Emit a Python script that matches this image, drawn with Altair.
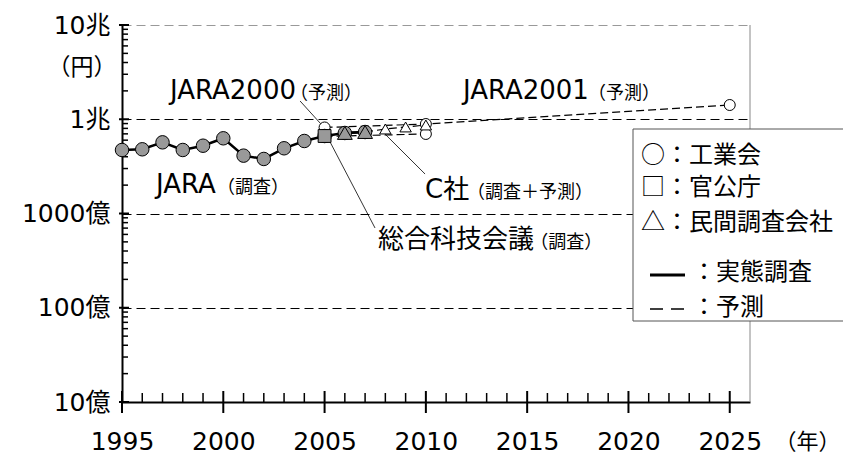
import altair as alt
import pandas as pd

# ---------------- data (unit: 億円) ----------------
jara_years = list(range(1995, 2008))
jara_values = [4720, 4800, 5690, 4720, 5240, 6280, 4110, 3790, 4920, 5880, 6640, 7150, 7320]

gov_years = [2005]
gov_values = [6640]

c_actual_years = [2006, 2007]
c_actual_values = [7150, 7320]

c_fc_years = [2007, 2008, 2009, 2010]
c_fc_values = [7320, 7880, 8280, 8690]

jara2000_years = [2005, 2010]
jara2000_values = [6570, 6980]

jara2001_years = [2005, 2010, 2025]
jara2001_values = [8180, 8900, 14160]

x_ticks = [1995, 2000, 2005, 2010, 2015, 2020, 2025]
x_minor = [y for y in range(1995, 2026) if y % 5 != 0]
y_ticks = [10, 100, 1000, 10000, 100000]
y_tick_labels = ["10億", "100億", "1000億", "1兆", "10兆"]
y_minor = [m * 10 ** e for e in range(1, 5) for m in range(2, 10)]

# annotations (data coordinates)
big_text = ["JARA2000", "JARA2001", "JARA", "C社", "総合科技会議"]
big_year = [1997.37, 2011.83, 1996.68, 2009.96, 2007.64]
big_value = [16400, 16400, 1650, 1460, 430]
small_text = ["（予測）", "（予測）", "（調査）", "（調査＋予測）", "（調査）"]
small_year = [2003.29, 2018.00, 1999.69, 2012.03, 2015.15]
small_value = [16400, 16400, 1650, 1460, 430]

lead_year = [2003.79, 2005.22, 2007.98]
lead_value = [15620, 6024, 6975]
lead_year2 = [2004.82, 2007.49, 2009.96]
lead_value2 = [8905, 702, 2624]

legend_labels = ["○：工業会", "□：官公庁", "△：民間調査会社", "：実態調査", "：予測"]

# ---------------- styles ----------------
W, H = 628, 377
FONT_LAT = "DejaVu Sans, Noto Sans CJK JP"
FONT_JP = "Noto Sans CJK JP"

xscale = alt.Scale(domain=[1995, 2026], nice=False, zero=False)
yscale = alt.Scale(type="log", domain=[10, 100000], nice=False)

label_expr = " : ".join(
    f"datum.value == {v} ? '{t}'" for v, t in zip(y_ticks, y_tick_labels)
) + " : ''"

xaxis = alt.Axis(
    values=x_ticks, format="d", grid=False, ticks=False, tickSize=0,
    labelFont=FONT_LAT, labelFontSize=25, labelColor="black", labelPadding=27,
    labelFlush=False, labelOverlap=False,
    domainColor="black", domainWidth=2,
    title="（年）", titleFont=FONT_JP, titleFontSize=22, titleFontWeight="normal",
    titleColor="black", titleX=652, titleY=39, titleAlign="left", titleBaseline="middle",
)
yaxis = alt.Axis(
    values=y_ticks, labelExpr=label_expr, ticks=False, tickSize=0,
    labelFont=FONT_LAT, labelFontSize=25, labelColor="black", labelPadding=12,
    labelFlush=False, labelOverlap=False,
    domainColor="black", domainWidth=2,
    grid=True, gridDash=[9, 5], gridWidth=1,
    gridColor={"condition": {"test": "datum.value >= 100000", "value": "#999999"}, "value": "#000000"},
    title="（円）", titleFont=FONT_JP, titleFontSize=23, titleFontWeight="normal",
    titleColor="black", titleAngle=0, titleX=-6, titleY=42, titleAlign="right",
    titleBaseline="middle",
)

X = alt.X("year:Q", scale=xscale, axis=xaxis)
Y = alt.Y("value:Q", scale=yscale, axis=yaxis)


def df(years, values):
    return pd.DataFrame({"year": years, "value": values})


one = pd.DataFrame({"a": [0]})

# axis base (grid etc.)
base = alt.Chart(df(jara_years, jara_values)).mark_point(opacity=0).encode(x=X, y=Y)

# manual ticks
x_minor_ticks = alt.Chart(pd.DataFrame({"year": x_minor})).mark_rule(color="black", strokeWidth=1.5).encode(
    x=X, y=alt.value(H - 9), y2=alt.value(H))
x_major_ticks = alt.Chart(pd.DataFrame({"year": x_ticks})).mark_rule(color="black", strokeWidth=2).encode(
    x=X, y=alt.value(H - 11), y2=alt.value(H + 11))
y_minor_ticks = alt.Chart(pd.DataFrame({"value": y_minor})).mark_rule(color="black", strokeWidth=1.5).encode(
    y=Y, x=alt.value(0), x2=alt.value(6))
y_major_ticks = alt.Chart(pd.DataFrame({"value": y_ticks})).mark_rule(color="black", strokeWidth=2).encode(
    y=Y, x=alt.value(-3), x2=alt.value(7))

right_border = alt.Chart(one).mark_rule(color="#888888", strokeWidth=1).encode(
    x=alt.datum(2026), y=alt.value(0), y2=alt.value(H))

dash = dict(color="black", strokeWidth=1.2, strokeDash=[8, 4])
l_j2000 = alt.Chart(df(jara2000_years, jara2000_values)).mark_line(**dash).encode(x=X, y=Y)
l_j2001 = alt.Chart(df(jara2001_years, jara2001_values)).mark_line(**dash).encode(x=X, y=Y)
l_cfc = alt.Chart(df(c_fc_years, c_fc_values)).mark_line(**dash).encode(x=X, y=Y)

l_jara = alt.Chart(df(jara_years, jara_values)).mark_line(color="black", strokeWidth=2.5).encode(x=X, y=Y)
l_cact = alt.Chart(df(c_actual_years, c_actual_values)).mark_line(color="black", strokeWidth=2.5).encode(x=X, y=Y)

GRAY = "#999999"
p_open = alt.Chart(df(jara2000_years + jara2001_years, jara2000_values + jara2001_values)).mark_point(
    shape="circle", filled=True, color="white", stroke="black", strokeWidth=1, size=121, opacity=1
).encode(x=X, y=Y)
p_jara = alt.Chart(df(jara_years, jara_values)).mark_point(
    shape="circle", filled=True, color=GRAY, stroke="black", strokeWidth=1, size=182, opacity=1
).encode(x=X, y=Y)
p_gov = alt.Chart(df(gov_years, gov_values)).mark_point(
    shape="square", filled=True, color=GRAY, stroke="black", strokeWidth=1, size=165, opacity=1
).encode(x=X, y=Y)
p_cact = alt.Chart(df(c_actual_years, c_actual_values)).mark_point(
    shape="triangle-up", filled=True, color=GRAY, stroke="black", strokeWidth=1, size=220, opacity=1
).encode(x=X, y=Y)
p_cfc = alt.Chart(df(c_fc_years[1:], c_fc_values[1:])).mark_point(
    shape="triangle-up", filled=True, color="white", stroke="black", strokeWidth=1, size=130, opacity=1
).encode(x=X, y=Y)

leaders = alt.Chart(pd.DataFrame({"year": lead_year, "value": lead_value,
                                  "year2": lead_year2, "value2": lead_value2})).mark_rule(
    color="black", strokeWidth=0.8).encode(x=X, y=Y, x2="year2:Q", y2="value2:Q")

t_big = alt.Chart(pd.DataFrame({"year": big_year, "value": big_value, "t": big_text})).mark_text(
    align="left", baseline="alphabetic", font=FONT_LAT, fontSize=26, color="black"
).encode(x=X, y=Y, text="t:N")
t_small = alt.Chart(pd.DataFrame({"year": small_year, "value": small_value, "t": small_text})).mark_text(
    align="left", baseline="alphabetic", font=FONT_JP, fontSize=18, color="black"
).encode(x=X, y=Y, text="t:N")

# legend box (pixel layout)
leg_box = alt.Chart(one).mark_rect(fill="white", stroke="#555555", strokeWidth=1).encode(
    x=alt.value(511), x2=alt.value(800), y=alt.value(104), y2=alt.value(296))
leg_df = pd.DataFrame({"label": legend_labels,
                       "px": [519, 519, 519, 570, 570],
                       "py": [131, 163, 198, 248, 283]})
leg_text = alt.Chart(leg_df).mark_text(
    align="left", baseline="middle", font=FONT_JP, fontSize=24, color="black"
).encode(x=alt.X("px:Q", scale=None), y=alt.Y("py:Q", scale=None), text="label:N")
leg_solid = alt.Chart(one).mark_rule(color="black", strokeWidth=3).encode(
    x=alt.value(528), x2=alt.value(563), y=alt.value(250))
leg_dash = alt.Chart(one).mark_rule(color="black", strokeWidth=1.5, strokeDash=[13, 8]).encode(
    x=alt.value(528), x2=alt.value(563), y=alt.value(284))

chart = alt.layer(
    base, x_minor_ticks, x_major_ticks, y_minor_ticks, y_major_ticks, right_border,
    l_j2000, l_j2001, l_cfc, l_jara, l_cact,
    leaders,
    p_open, p_jara, p_gov, p_cact, p_cfc,
    t_big, t_small,
    leg_box, leg_text, leg_solid, leg_dash,
).properties(
    width=W, height=H,
    autosize=alt.AutoSizeParams(type="none"),
    padding={"left": 114, "top": 17, "right": 93, "bottom": 52},
    background="white",
).configure_view(stroke=None)

chart.save("out.html", embed_options={"renderer": "svg", "actions": False})
